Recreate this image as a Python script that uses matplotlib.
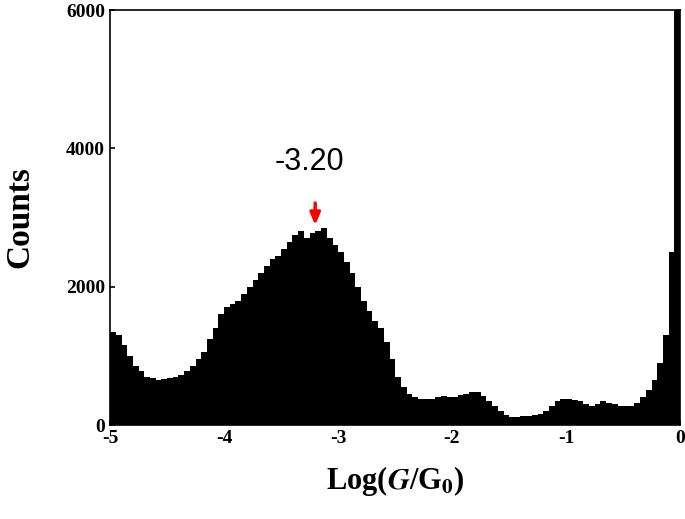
import numpy as np
import matplotlib
matplotlib.use("Agg")
import matplotlib.pyplot as plt

# bin left edges every 0.05 from -5 to 0
bin_left = np.round(np.arange(-5.0, 0.0, 0.05), 2)
counts = [
    1350, 1300, 1150, 1000, 850, 780, 700, 680, 650, 660,
    680, 700, 720, 780, 850, 950, 1050, 1250, 1400, 1600,
    1700, 1750, 1800, 1900, 2000, 2100, 2200, 2300, 2400, 2450,
    2550, 2650, 2750, 2800, 2700, 2780, 2800, 2850, 2700, 2600,
    2500, 2350, 2200, 2000, 1800, 1650, 1500, 1400, 1200, 950,
    700, 550, 450, 400, 380, 370, 380, 400, 420, 410,
    400, 430, 450, 480, 480, 420, 350, 270, 200, 150,
    120, 120, 130, 130, 140, 160, 200, 280, 350, 380,
    380, 360, 350, 300, 280, 300, 350, 320, 300, 280,
    280, 280, 320, 400, 500, 650, 900, 1300, 2500, 6000,
]

plt.rcParams['font.family'] = ['Liberation Serif', 'DejaVu Serif']
plt.rcParams['mathtext.fontset'] = 'stix'
fig = plt.figure(figsize=(6.85, 5.19), dpi=100)
ax = fig.add_axes([110/685, 1 - 425/519, 570/685, 415/519])
ax.bar(bin_left, counts, width=0.052, align='edge', color='black', linewidth=0)
ax.set_xlim(-5, 0)
ax.set_ylim(0, 6000)
ax.set_xticks([-5, -4, -3, -2, -1, 0])
ax.set_xticklabels(['-5', '-4', '-3', '-2', '-1', '0'])
ax.set_yticks([0, 2000, 4000, 6000])
ax.tick_params(direction='in', labelsize=14, width=1.2)
for lbl in ax.get_xticklabels() + ax.get_yticklabels():
    lbl.set_fontweight('bold')
for s in ax.spines.values():
    s.set_linewidth(1.2)
ax.set_xlabel(r'Log($\mathbfit{G}$/G$_\mathbf{0}$)', fontsize=22, fontweight='bold', labelpad=12)
ax.set_ylabel('Counts', fontsize=24, fontweight='bold', labelpad=22)
ax.annotate('', xy=(-3.2, 2850), xytext=(-3.2, 3250),
            arrowprops=dict(arrowstyle='-|>,head_width=0.3,head_length=0.7', color='red', lw=2.5))
ax.text(-3.25, 3800, '-3.20', fontsize=22, ha='center', va='center', family=['Liberation Sans'])
fig.savefig('out.png')
